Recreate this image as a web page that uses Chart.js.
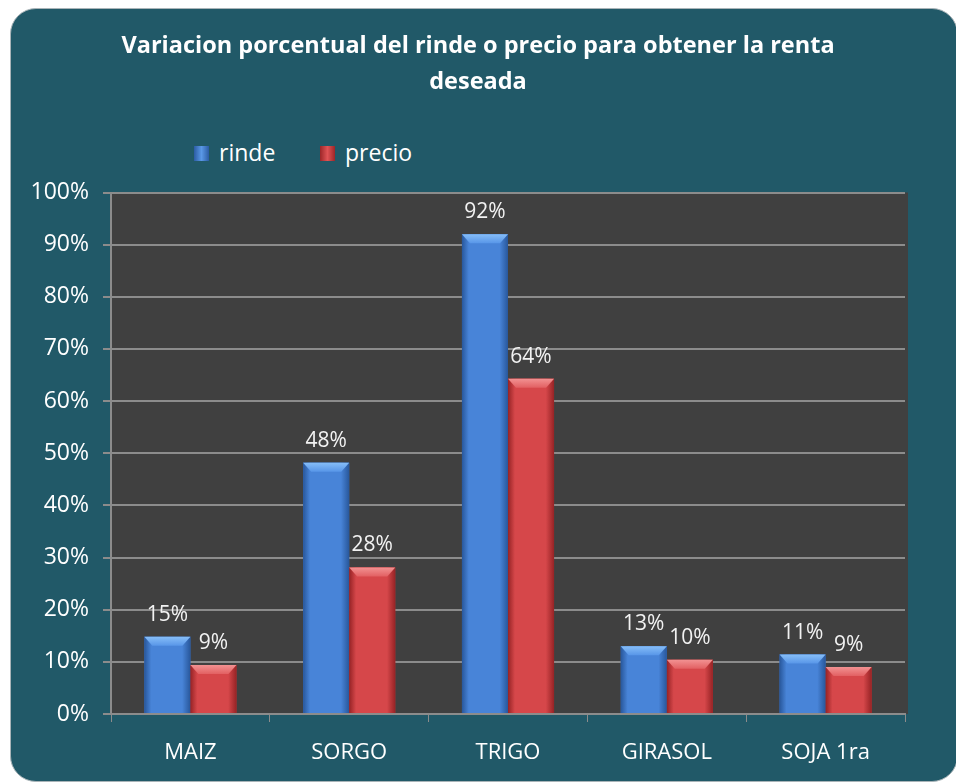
<!DOCTYPE html>
<html>
<head>
<meta charset="utf-8">
<script src="https://cdn.jsdelivr.net/npm/chart.js@4.4.1/dist/chart.umd.min.js"></script>
<style>
  html, body { margin: 0; padding: 0; background: #ffffff; }
  #wrap { position: relative; width: 956px; height: 782px; overflow: hidden; }
  #box {
    position: absolute; left: 10px; top: 8px; width: 946px; height: 772px;
    background: #215968; border: 1px solid #a9b4b8; border-radius: 26px;
  }
  #holder { position: absolute; left: 0; top: 0; width: 956px; height: 782px; }
  .legend { position: absolute; top: 136px; font-family: "Open Sans", sans-serif; font-size: 23px; color: #ffffff; }
  .legend span.sw { display: inline-block; width: 15px; height: 15px; margin-right: 10px; vertical-align: 0px; }
  .sw.blue { background: linear-gradient(90deg, #2b5ca3, #5a98e6 50%, #2b5ca3); }
  .sw.red { background: linear-gradient(90deg, #9c2628, #e05355 50%, #9c2628); }
</style>
</head>
<body>
<div id="wrap">
  <div id="box"></div>
  <div class="legend" style="left:194px"><span class="sw blue"></span>rinde</div>
  <div class="legend" style="left:320px"><span class="sw red"></span>precio</div>
  <div id="holder"><canvas id="myChart"></canvas></div>
</div>
<script>
var categories = ['MAIZ', 'SORGO', 'TRIGO', 'GIRASOL', 'SOJA 1ra'];
var rinde = [0.148, 0.482, 0.92, 0.13, 0.114];
var precio = [0.094, 0.281, 0.643, 0.104, 0.09];
var yTicks = [0, 0.1, 0.2, 0.3, 0.4, 0.5, 0.6, 0.7, 0.8, 0.9, 1.0];

var shades = {
    blue: { edge: '#28579b', mid: '#4884d8', top1: '#86bef8', top2: '#5896e8' },
    red:  { edge: '#962325', mid: '#d6474a', top1: '#f29292', top2: '#e26062' }
};

// dark plot background
var plotBg = {
    id: 'plotBg',
    beforeDraw: function (chart) {
        var a = chart.chartArea, c = chart.ctx;
        c.save();
        c.fillStyle = '#404040';
        c.fillRect(a.left, a.top, a.right - a.left + 3, a.bottom - a.top);
        c.restore();
    }
};

// shaded bars + value labels
var barLook = {
    id: 'barLook',
    afterDatasetsDraw: function (chart) {
        var c = chart.ctx;
        chart.data.datasets.forEach(function (ds, di) {
            var s = shades[ds.shade];
            chart.getDatasetMeta(di).data.forEach(function (bar, i) {
                var x0 = bar.x - bar.width / 2, x1 = bar.x + bar.width / 2;
                var y0 = bar.y, y1 = bar.base;
                c.save();
                var g = c.createLinearGradient(x0, 0, x1, 0);
                g.addColorStop(0, s.edge);
                g.addColorStop(0.15, s.mid);
                g.addColorStop(0.5, s.mid);
                g.addColorStop(0.82, s.mid);
                g.addColorStop(1, s.edge);
                c.fillStyle = g;
                c.fillRect(x0, y0, x1 - x0, y1 - y0);
                // top bevel
                var b = Math.min(9, (y1 - y0) / 2);
                var tg = c.createLinearGradient(0, y0, 0, y0 + b);
                tg.addColorStop(0, s.top1);
                tg.addColorStop(1, s.top2);
                c.fillStyle = tg;
                c.beginPath();
                c.moveTo(x0, y0);
                c.lineTo(x1, y0);
                c.lineTo(x1 - 8, y0 + b);
                c.lineTo(x0 + 8, y0 + b);
                c.closePath();
                c.fill();
                c.restore();

                c.save();
                c.fillStyle = '#f2f2f2';
                c.font = '21px "Open Sans", sans-serif';
                c.textAlign = 'center';
                c.textBaseline = 'middle';
                c.fillText(Math.round(ds.data[i] * 100) + '%', bar.x, y0 - 22);
                c.restore();
            });
        });
    }
};

var ctx = document.getElementById('myChart').getContext('2d');
var chart = new Chart(ctx, {
    type: 'bar',
    data: {
        labels: categories,
        datasets: [{
            label: 'rinde',
            shade: 'blue',
            backgroundColor: '#3d78d0',
            data: rinde
        }, {
            label: 'precio',
            shade: 'red',
            backgroundColor: '#c8383a',
            data: precio
        }]
    },
    options: {
        responsive: true,
        maintainAspectRatio: false,
        animation: false,
        layout: { padding: 0 },
        datasets: { bar: { categoryPercentage: 0.58, barPercentage: 1.0 } },
        plugins: {
            legend: { display: false },
            tooltip: { enabled: false },
            title: {
                display: true,
                text: ['Variacion porcentual del rinde o precio para obtener la renta', 'deseada'],
                color: '#ffffff',
                font: { family: '"Open Sans", sans-serif', size: 23.5, weight: 'bold', lineHeight: 1.5 },
                padding: { top: 29, bottom: 93 }
            }
        },
        scales: {
            x: {
                grid: { drawOnChartArea: false, drawTicks: true, tickLength: 8, color: '#8c8c8c', offset: true },
                border: { color: '#8c8c8c', width: 2 },
                ticks: { color: '#ffffff', padding: 18, font: { family: '"Open Sans", sans-serif', size: 22 } },
                afterFit: function (scale) { scale.height = 68; }
            },
            y: {
                min: 0,
                max: 1,
                afterBuildTicks: function (scale) {
                    scale.ticks = yTicks.map(function (v) { return { value: v }; });
                },
                grid: { color: '#8c8c8c', lineWidth: 2, tickLength: 8 },
                border: { color: '#8c8c8c', width: 2 },
                ticks: {
                    color: '#ffffff',
                    padding: 14,
                    font: { family: '"Open Sans", sans-serif', size: 23 },
                    callback: function (v) { return Math.round(v * 100) + '%'; }
                },
                afterFit: function (scale) { scale.width = 111; }
            },
            // empty right-hand axis: only reserves the margin right of the plot
            yRight: {
                position: 'right',
                grid: { display: false },
                border: { display: false },
                ticks: { display: false },
                afterFit: function (scale) { scale.width = 51; }
            }
        }
    },
    plugins: [plotBg, barLook]
});
</script>
</body>
</html>
